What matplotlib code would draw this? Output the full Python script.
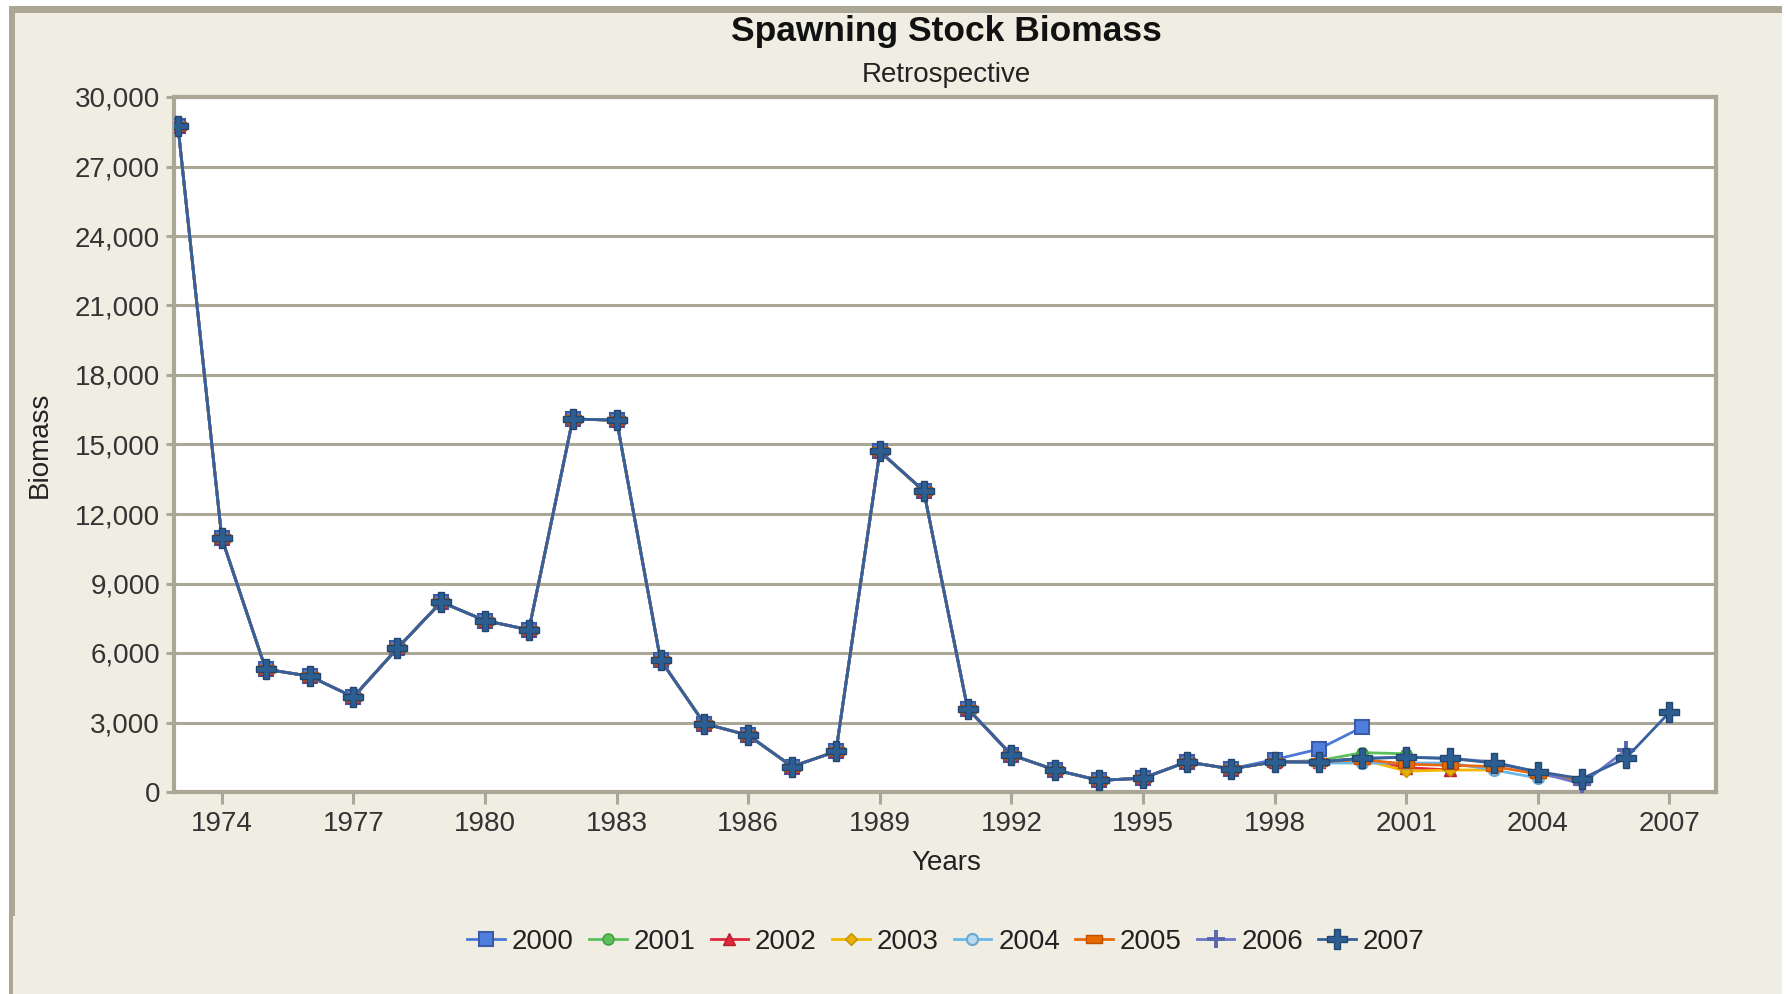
import matplotlib
matplotlib.use("Agg")
import matplotlib.pyplot as plt
from matplotlib.patches import Rectangle
from matplotlib.ticker import FuncFormatter, FixedLocator

plt.rcParams['font.family'] = ['Liberation Sans', 'DejaVu Sans']

# ---------------- data ----------------
years = list(range(1973, 2008))
# shared history 1973-1997 (all retrospective runs nearly identical)
history = [28750, 10950, 5300, 5000, 4100, 6200, 8200, 7400, 7000, 16100, 16050,
           5700, 2950, 2450, 1100, 1750, 14700, 13000, 3600, 1600, 950, 500, 600,
           1300, 1000]
# tails 1998 onwards for each terminal-year run
tail_2000 = [1400, 1850, 2800]
tail_2001 = [1300, 1350, 1700, 1650]
tail_2002 = [1300, 1300, 1450, 1050, 950]
tail_2003 = [1300, 1300, 1400, 900, 950, 950]
tail_2004 = [1300, 1250, 1250, 1250, 1250, 950, 600]
tail_2005 = [1300, 1300, 1400, 1200, 1150, 1100, 780, 480]
tail_2006 = [1300, 1300, 1450, 1500, 1450, 1300, 850, 350, 1800]
tail_2007 = [1300, 1300, 1450, 1500, 1450, 1250, 880, 575, 1450, 3440]

series_names = ['2000', '2001', '2002', '2003', '2004', '2005', '2006', '2007']
tails = [tail_2000, tail_2001, tail_2002, tail_2003, tail_2004, tail_2005, tail_2006, tail_2007]

x_ticks = list(range(1974, 2008, 3))
y_ticks = list(range(0, 30001, 3000))

# ---------------- styles ----------------
W, H = 1788, 994
beige = '#f0eee2'
gray = '#aaa797'

rect_marker = [(-1, -0.55), (1, -0.55), (1, 0.55), (-1, 0.55), (-1, -0.55)]
styles = {
    '2000': dict(color='#4a78d6', marker='s', ms=10, mfc='#4f7fde', mec='#3b5ba8', mew=1.5),
    '2001': dict(color='#5cbf5c', marker='o', ms=8, mfc='#5cbf5c', mec='#3f9a3f', mew=1),
    '2002': dict(color='#e0283c', marker='^', ms=9, mfc='#e0283c', mec='#b51f30', mew=1),
    '2003': dict(color='#f0b800', marker='D', ms=6.5, mfc='#e8b000', mec='#c09000', mew=1),
    '2004': dict(color='#68b8ec', marker='o', ms=8, mfc='#b8daf0', mec='#6aa8d0', mew=1.5),
    '2005': dict(color='#e86a10', marker=rect_marker, ms=11, mfc='#e66a00', mec='#c05000', mew=1),
    '2006': dict(color='#6d78c6', marker='+', ms=13, mfc='#5a66b0', mec='#5a66b0', mew=2.8),
    '2007': dict(color='#35609a', marker='P', ms=15, mfc='#2c5e92', mec='#22466e', mew=1),
}

fig = plt.figure(figsize=(W / 100, H / 100), dpi=100, facecolor='white')

# outer chart frame (beige panel with gray top/left border)
fig.patches.append(Rectangle((9 / W, 0), (1782 - 9) / W, (994 - 6) / H,
                             transform=fig.transFigure, facecolor=beige, edgecolor='none', zorder=-10))
fig.patches.append(Rectangle((9 / W, (994 - 13) / H), (1782 - 9) / W, 7 / H,
                             transform=fig.transFigure, facecolor=gray, edgecolor='none', zorder=-9))
fig.patches.append(Rectangle((9 / W, (994 - 916) / H), 6 / W, (916 - 6) / H,
                             transform=fig.transFigure, facecolor=gray, edgecolor='none', zorder=-9))
fig.patches.append(Rectangle((9 / W, 0), 4 / W, (994 - 916) / H,
                             transform=fig.transFigure, facecolor=gray, edgecolor='none', zorder=-9))

ax = fig.add_axes([174 / W, (994 - 792) / H, (1716 - 174) / W, (792 - 97) / H])
ax.set_facecolor('white')

for name, tail in zip(series_names, tails):
    vals = history + tail
    yrs = years[:len(vals)]
    st = styles[name]
    ax.plot(yrs, vals, label=name, lw=2.0, color=st['color'], marker=st['marker'],
            markersize=st['ms'], markerfacecolor=st['mfc'], markeredgecolor=st['mec'],
            markeredgewidth=st['mew'], zorder=3)

ax.set_xlim(1972.91, 2008.06)
ax.set_ylim(0, 30000)
ax.xaxis.set_major_locator(FixedLocator(x_ticks))
ax.yaxis.set_major_locator(FixedLocator(y_ticks))
ax.yaxis.set_major_formatter(FuncFormatter(lambda v, p: f"{int(v):,}"))

ax.grid(axis='y', color=gray, lw=2.2, zorder=1)
ax.set_axisbelow(True)
for s in ax.spines.values():
    s.set_color(gray)
    s.set_linewidth(3)
ax.tick_params(axis='x', direction='out', length=8.5, width=2.2, color=gray,
               labelsize=20, labelcolor='#333333', pad=5)
ax.tick_params(axis='y', direction='out', length=6, width=2.2, color=gray,
               labelsize=20, labelcolor='#333333', pad=4)

fig.text(946 / W, 1 - 32 / H, 'Spawning Stock Biomass', ha='center', va='center',
         fontsize=25.5, fontweight='bold', color='#111111')
fig.text(946 / W, 1 - 75 / H, 'Retrospective', ha='center', va='center',
         fontsize=20, color='#222222')
fig.text(946 / W, 1 - 863 / H, 'Years', ha='center', va='center', fontsize=20, color='#222222')
fig.text(40 / W, 1 - 445 / H, 'Biomass', ha='center', va='center', rotation=90,
         fontsize=20, color='#222222')

leg = fig.legend(loc='center', bbox_to_anchor=(946 / W, 1 - 942 / H), ncol=8, frameon=False,
                 fontsize=20, handlelength=1.35, handletextpad=0.25, columnspacing=0.55,
                 borderaxespad=0)
for t in leg.get_texts():
    t.set_color('#222222')

fig.savefig('out.png', dpi=100, facecolor='white')
